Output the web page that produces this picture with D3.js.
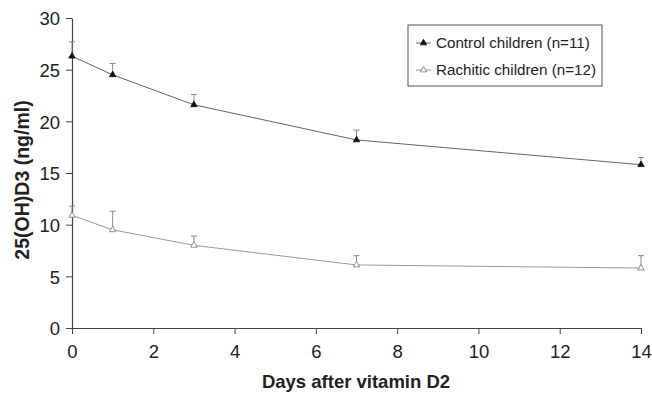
<!DOCTYPE html>
<html>
<head>
<meta charset="utf-8">
<script src="https://cdn.jsdelivr.net/npm/d3@7"></script>
<style>
  body { margin: 0; background: #fff; }
  text { font-family: "Liberation Sans", Arial, sans-serif; }
</style>
</head>
<body>
<div id="chart"></div>
<script>
// Data
const days = [0, 1, 3, 7, 14];
const controlMean = [26.3, 24.5, 21.6, 18.2, 15.8];
const controlErr = [1.4, 1.1, 1.0, 0.95, 0.7];
const rachiticMean = [10.9, 9.5, 8.0, 6.1, 5.8];
const rachiticErr = [0.9, 1.8, 0.9, 0.9, 1.2];
const xTicks = [0, 2, 4, 6, 8, 10, 12, 14];
const yTicks = [0, 5, 10, 15, 20, 25, 30];

const width = 652;
const height = 396;
const margin = { top: 18, right: 11, bottom: 68, left: 72 };

const svg = d3
  .select("#chart")
  .append("svg")
  .attr("width", width)
  .attr("height", height);

const g = svg
  .append("g")
  .attr("transform", `translate(${margin.left}, ${margin.top})`);

const innerW = width - margin.left - margin.right;
const innerH = height - margin.top - margin.bottom;

const xScale = d3.scaleLinear().domain([0, 14]).range([0, innerW]);
const yScale = d3.scaleLinear().domain([0, 30]).range([innerH, 0]);

// Axes
const xAxis = g
  .append("g")
  .attr("transform", `translate(0, ${innerH})`)
  .call(d3.axisBottom(xScale).tickValues(xTicks).tickSize(6).tickSizeOuter(0).tickPadding(11));
const yAxis = g
  .append("g")
  .call(d3.axisLeft(yScale).tickValues(yTicks).tickSize(6).tickSizeOuter(0).tickPadding(6));

[xAxis, yAxis].forEach((ax) => {
  ax.select(".domain").attr("stroke", "#444").attr("stroke-width", 1.2);
  ax.selectAll(".tick line").attr("stroke", "#444");
  ax.selectAll(".tick text")
    .attr("fill", "#222")
    .style("font-size", "18.5px")
    .style("font-family", '"Liberation Sans", Arial, sans-serif');
});
yAxis.selectAll(".tick text").attr("dy", "0.36em");

// Series
const series = [
  { name: "Control children (n=11)", mean: controlMean, err: controlErr, line: "#666", fill: "#111" },
  { name: "Rachitic children (n=12)", mean: rachiticMean, err: rachiticErr, line: "#999", fill: "#fff" },
];

const tri = d3.symbol().type(d3.symbolTriangle).size(18);
const line = d3.line().x((d) => xScale(d[0])).y((d) => yScale(d[1]));

series.forEach((s) => {
  const pts = days.map((d, i) => [d, s.mean[i], s.err[i]]);

  g.append("path")
    .datum(pts)
    .attr("d", line)
    .attr("fill", "none")
    .attr("stroke", s.line)
    .attr("stroke-width", 1);

  // Error bars (upper only)
  const eb = g.selectAll(null).data(pts).enter().append("g");
  eb.append("line")
    .attr("x1", (d) => xScale(d[0]))
    .attr("x2", (d) => xScale(d[0]))
    .attr("y1", (d) => yScale(d[1]))
    .attr("y2", (d) => yScale(d[1] + d[2]))
    .attr("stroke", "#888")
    .attr("stroke-width", 1);
  eb.append("line")
    .attr("x1", (d) => xScale(d[0]) - 3)
    .attr("x2", (d) => xScale(d[0]) + 3)
    .attr("y1", (d) => yScale(d[1] + d[2]))
    .attr("y2", (d) => yScale(d[1] + d[2]))
    .attr("stroke", "#888")
    .attr("stroke-width", 1);

  g.selectAll(null)
    .data(pts)
    .enter()
    .append("path")
    .attr("d", tri)
    .attr("transform", (d) => `translate(${xScale(d[0])}, ${yScale(d[1])})`)
    .attr("fill", s.fill)
    .attr("stroke", s.fill === "#fff" ? "#777" : "#111")
    .attr("stroke-width", 0.8);
});

// Legend
const legend = svg.append("g").attr("transform", "translate(408, 25)");
legend.append("rect")
  .attr("width", 194)
  .attr("height", 61)
  .attr("fill", "#fff")
  .attr("stroke", "#555")
  .attr("stroke-width", 1);

series.forEach((s, i) => {
  const y = 18 + i * 27;
  legend.append("line")
    .attr("x1", 8).attr("x2", 23)
    .attr("y1", y).attr("y2", y)
    .attr("stroke", s.line).attr("stroke-width", 1);
  legend.append("path")
    .attr("d", tri)
    .attr("transform", `translate(15.5, ${y})`)
    .attr("fill", s.fill)
    .attr("stroke", s.fill === "#fff" ? "#777" : "#111")
    .attr("stroke-width", 0.8);
  legend.append("text")
    .attr("x", 28)
    .attr("y", y)
    .attr("dy", "0.35em")
    .style("font-size", "15.2px")
    .attr("fill", "#222")
    .text(s.name);
});

// Axis titles
svg.append("text")
  .attr("x", 356)
  .attr("y", 382)
  .attr("dy", "0.35em")
  .attr("text-anchor", "middle")
  .style("font-size", "18.5px")
  .style("font-weight", "bold")
  .attr("fill", "#222")
  .text("Days after vitamin D2");

svg.append("text")
  .attr("transform", "translate(22, 180) rotate(-90)")
  .attr("text-anchor", "middle")
  .attr("dy", "0.35em")
  .style("font-size", "19.5px")
  .style("font-weight", "bold")
  .attr("fill", "#222")
  .text("25(OH)D3 (ng/ml)");
</script>
</body>
</html>
